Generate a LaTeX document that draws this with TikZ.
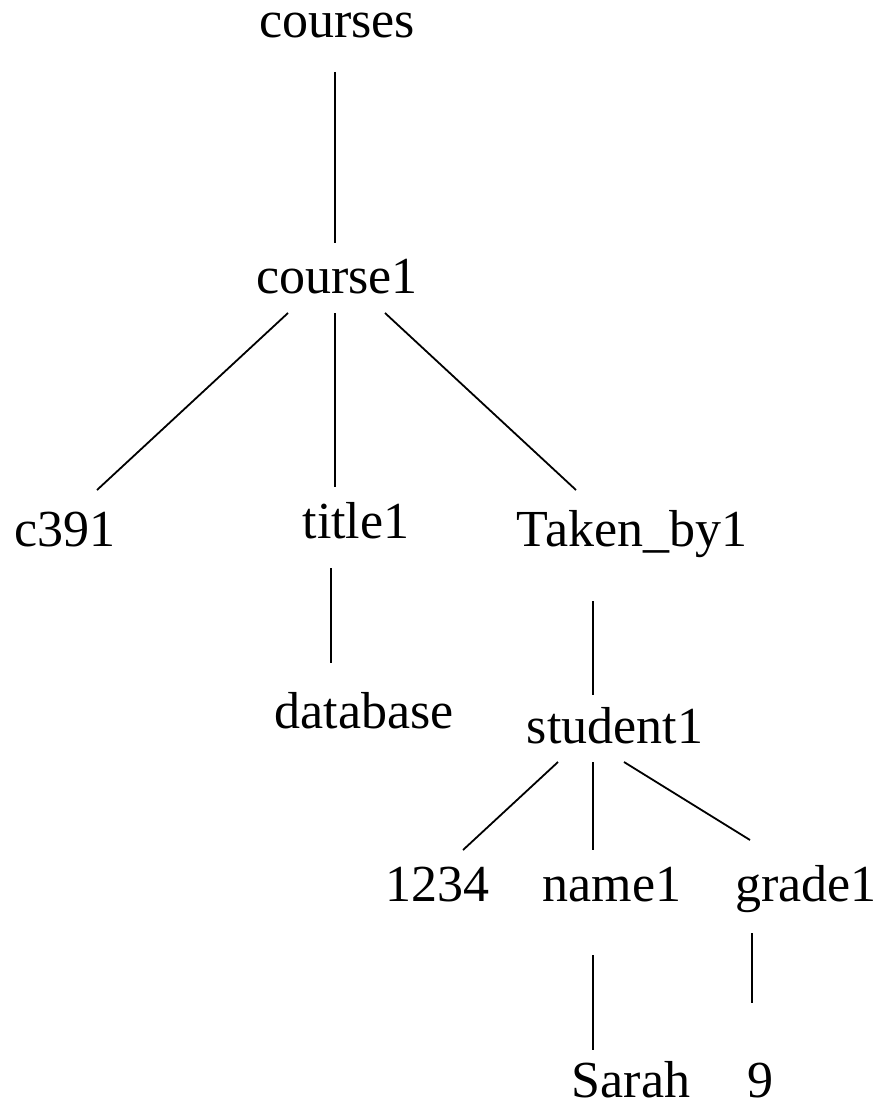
\documentclass[tikz,border=0pt]{standalone}
\usepackage{fontspec}
\setmainfont{Liberation Serif}
\begin{document}
\begin{tikzpicture}[x=1pt,y=-1pt,
  lbl/.style={anchor=base,inner sep=0pt,font=\fontsize{52}{60}\selectfont},
  edge/.style={line width=1.8pt}]
\useasboundingbox (0,0) rectangle (880,1105);
% labels of the tree
\node[lbl] (courses)  at (337,38)  {courses};
\node[lbl] (course1)  at (337,293) {course1};
\node[lbl] (c391)     at (65,546)  {c391};
\node[lbl] (title1)   at (356,538) {title1};
\node[lbl] (taken)    at (632,546) {Taken\_by1};
\node[lbl] (database) at (364,728) {database};
\node[lbl] (student1) at (615,743) {student1};
\node[lbl] (n1234)    at (437,901) {1234};
\node[lbl] (name1)    at (612,901) {name1};
\node[lbl] (grade1)   at (806,901) {grade1};
\node[lbl] (sarah)    at (631,1097){Sarah};
\node[lbl] (nine)     at (760,1097){9};
% end points of the connectors
\coordinate (e1a) at (335,72);  \coordinate (e1b) at (335,243);
\coordinate (e2a) at (288,313); \coordinate (e2b) at (97,490);
\coordinate (e3a) at (335,313); \coordinate (e3b) at (335,487);
\coordinate (e4a) at (385,313); \coordinate (e4b) at (576,490);
\coordinate (e5a) at (331,568); \coordinate (e5b) at (331,663);
\coordinate (e6a) at (593,601); \coordinate (e6b) at (593,695);
\coordinate (e7a) at (558,762); \coordinate (e7b) at (463,850);
\coordinate (e8a) at (593,762); \coordinate (e8b) at (593,850);
\coordinate (e9a) at (624,762); \coordinate (e9b) at (750,840);
\coordinate (e10a) at (593,955); \coordinate (e10b) at (593,1050);
\coordinate (e11a) at (752,933); \coordinate (e11b) at (752,1003);
% connectors
\draw[edge] (e1a) -- (e1b);
\draw[edge] (e2a) -- (e2b);
\draw[edge] (e3a) -- (e3b);
\draw[edge] (e4a) -- (e4b);
\draw[edge] (e5a) -- (e5b);
\draw[edge] (e6a) -- (e6b);
\draw[edge] (e7a) -- (e7b);
\draw[edge] (e8a) -- (e8b);
\draw[edge] (e9a) -- (e9b);
\draw[edge] (e10a) -- (e10b);
\draw[edge] (e11a) -- (e11b);
\end{tikzpicture}
\end{document}
